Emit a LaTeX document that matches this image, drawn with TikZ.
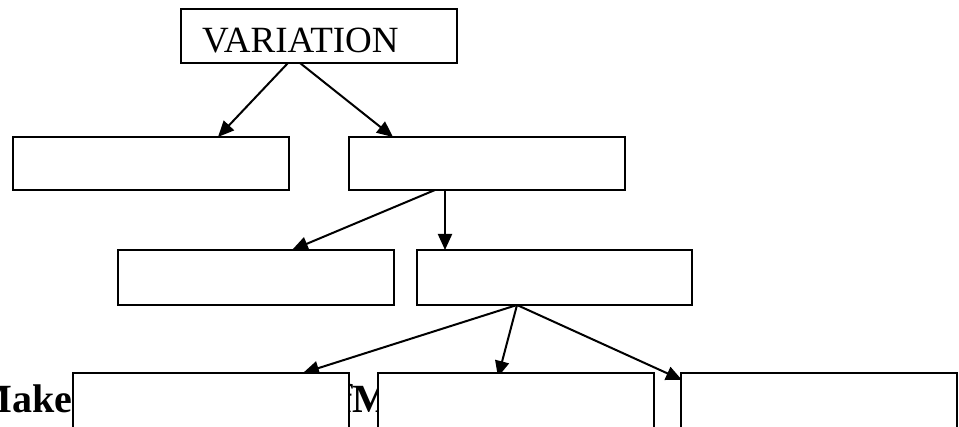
\documentclass[tikz,border=0pt]{standalone}
\usepackage{fontspec}
\setmainfont{Liberation Serif}
\usetikzlibrary{arrows.meta,backgrounds,calc}
\begin{document}
\begin{tikzpicture}[x=1pt,y=-1pt,
  box/.style={draw,line width=2pt,fill=white,minimum width=276pt,minimum height=54pt,inner sep=0pt,outer sep=0pt},
  conn/.style={line width=2pt,-{Triangle[length=16pt,width=14pt]}},
  lbl/.style={inner sep=0pt,outer sep=0pt}]
\useasboundingbox (0,0) rectangle (959,427);
% boxes
\node[box] (top) at (319,36) {};
\node[lbl,anchor=base west,font=\fontsize{37}{40}\selectfont] (vt) at (202,53) {VARIATION};
\node[box,minimum height=53pt] (r2a) at (151,163.5) {};
\node[box,minimum height=53pt] (r2b) at (487,163.5) {};
\node[box,minimum height=55pt] (r3a) at (256,277.5) {};
\node[box,minimum height=55pt,minimum width=275pt] (r3b) at (554.5,277.5) {};
\node[box,minimum height=60pt] (r4a) at (211,403) {};
\node[box,minimum height=60pt] (r4b) at (516,403) {};
\node[box,minimum height=60pt] (r4c) at (819,403) {};
\begin{scope}[on background layer]
  \node[lbl,anchor=base east,font=\fontsize{40}{44}\selectfont\bfseries] (mk) at (72,413) {Make};
  \node[lbl,anchor=base west,font=\fontsize{40}{44}\selectfont\bfseries] (fm) at (339,413) {fM};
  \draw[conn] ($(top.south west)+(107,0)$) -- ($(r2a.north west)+(205,0)$);
  \draw[conn] ($(top.south west)+(119,0)$) -- ($(r2b.north west)+(44,0)$);
  \draw[conn] ($(r2b.south west)+(86,0)$) -- ($(r3a.north west)+(174,0)$);
  \draw[conn] ($(r2b.south west)+(96,0)$) -- ($(r3b.north west)+(28,0)$);
  \draw[conn] ($(r3b.south west)+(100,0)$) -- ($(r4a.north west)+(230,0)$);
  \draw[conn] ($(r3b.south west)+(100,0)$) -- ($(r4b.north west)+(120,4)$);
  \draw[conn] ($(r3b.south west)+(100,0)$) -- ($(r4c.north west)+(1,7)$);
\end{scope}
\end{tikzpicture}
\end{document}
